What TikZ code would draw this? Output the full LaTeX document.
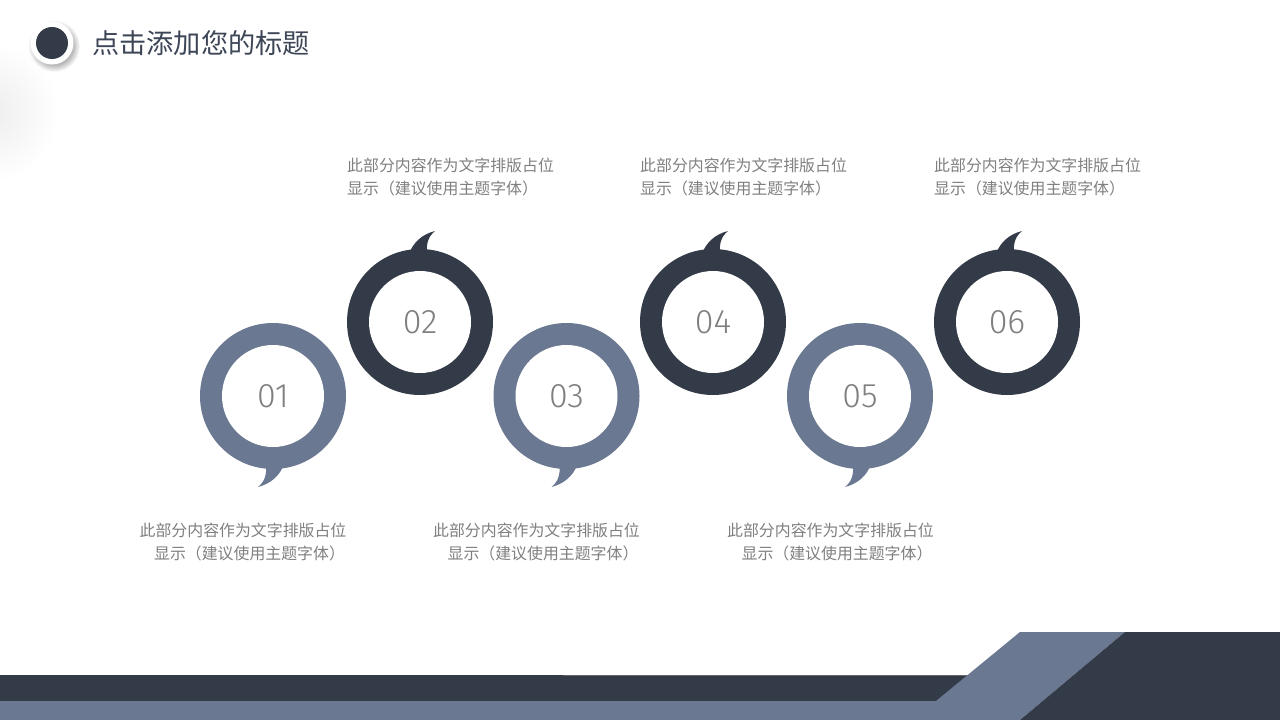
\documentclass[tikz,border=0pt]{standalone}
\usepackage{fontspec}
\setmainfont{Noto Sans CJK SC}
\newfontfamily\cjkfont{Noto Sans CJK SC}
\IfFontExistsTF{Fira Sans Light}{\newfontfamily\numfont{Fira Sans Light}}{%
  \IfFontExistsTF{FiraSans-Light.otf}{\newfontfamily\numfont{FiraSans-Light.otf}}{\newfontfamily\numfont{Fira Sans}}}
\definecolor{darkc}{HTML}{333A48}
\definecolor{lightc}{HTML}{6B7891}
\definecolor{titlec}{HTML}{3D4657}
\definecolor{textc}{HTML}{808080}
\definecolor{numc}{HTML}{7F7F7F}
\pgfdeclareradialshading{softshadow}{\pgfpointorigin}{color(0bp)=(black!28); color(18bp)=(black!28); color(25bp)=(white); color(50bp)=(white)}
\pgfdeclareradialshading{bigblur}{\pgfpointorigin}{color(0bp)=(black!7); color(25bp)=(white); color(50bp)=(white)}
\tikzset{
  ring/.style={circle, minimum size=146pt, inner sep=0pt, fill=#1},
  hole/.style={circle, minimum size=102pt, inner sep=0pt, fill=white, text=numc, font=\numfont\fontsize{34}{34}\selectfont},
  desc/.style={inner sep=0pt, text=textc, font=\cjkfont\fontsize{15.9}{23}\selectfont},
}
\newcommand\mybubble[5]{% name, x, y, color, rotation
  \begin{scope}[shift={(#2,#3)},rotate=#5]
    \fill[#4] (-11,-68) .. controls (-7,-80) and (3,-88) .. (15,-91) .. controls (9,-86) and (6,-80) .. (7,-68) -- cycle;
  \end{scope}
  \node[ring=#4] (r#1) at (#2,#3) {};
}
\begin{document}
\begin{tikzpicture}[x=1pt,y=-1pt]
\useasboundingbox (0,0) rectangle (1280,720);
\fill[white] (0,0) rectangle (1280,720);
% soft blur at left edge
\begin{scope}
\clip (0,0) rectangle (1280,720);
\shade[shading=bigblur] (-10,112) circle (70);
\end{scope}
% title icon
\shade[shading=softshadow] (54,46) circle (26);
\node[circle, fill=white, minimum size=43pt, inner sep=0pt] (ticon) at (52,43) {};
\node[circle, fill=darkc, minimum size=32pt, inner sep=0pt] (tdot) at (ticon.center) {};
\node[anchor=west, inner sep=0pt, text=titlec, font=\cjkfont\fontsize{27.2}{27.2}\selectfont] (title) at (92,43) {点击添加您的标题};
% bubbles
\mybubble{1}{273}{396}{lightc}{180}
\mybubble{2}{420}{322}{darkc}{0}
\mybubble{3}{566.5}{396}{lightc}{180}
\mybubble{4}{713}{322}{darkc}{0}
\mybubble{5}{860}{396}{lightc}{180}
\mybubble{6}{1007}{322}{darkc}{0}
\node[hole] (n1) at (r1) {01};
\node[hole] (n2) at (r2) {02};
\node[hole] (n3) at (r3) {03};
\node[hole] (n4) at (r4) {04};
\node[hole] (n5) at (r5) {05};
\node[hole] (n6) at (r6) {06};
% descriptions
\node[desc, anchor=west, align=left] (t2) at (347,177.5) {此部分内容作为文字排版占位\\显示（建议使用主题字体）};
\node[desc, anchor=west, align=left] (t4) at (640,177.5) {此部分内容作为文字排版占位\\显示（建议使用主题字体）};
\node[desc, anchor=west, align=left] (t6) at (934,177.5) {此部分内容作为文字排版占位\\显示（建议使用主题字体）};
\node[desc, align=center] (t1) at (243,542.5) {此部分内容作为文字排版占位\\\hspace*{13pt}显示（建议使用主题字体）};
\node[desc, align=center] (t3) at (536.5,542.5) {此部分内容作为文字排版占位\\\hspace*{13pt}显示（建议使用主题字体）};
\node[desc, align=center] (t5) at (830.5,542.5) {此部分内容作为文字排版占位\\\hspace*{13pt}显示（建议使用主题字体）};
% bottom bands
\fill[darkc] (0,675) rectangle (985,701);
\draw[color=black!60, line width=0.8pt] (563,675.4) -- (967,675.4);
\fill[lightc] (0,701) -- (936,701) -- (1020,632) -- (1125,632) -- (1020,720) -- (0,720) -- cycle;
\fill[darkc] (1125,632) -- (1280,632) -- (1280,720) -- (1020,720) -- cycle;
\end{tikzpicture}
\end{document}
